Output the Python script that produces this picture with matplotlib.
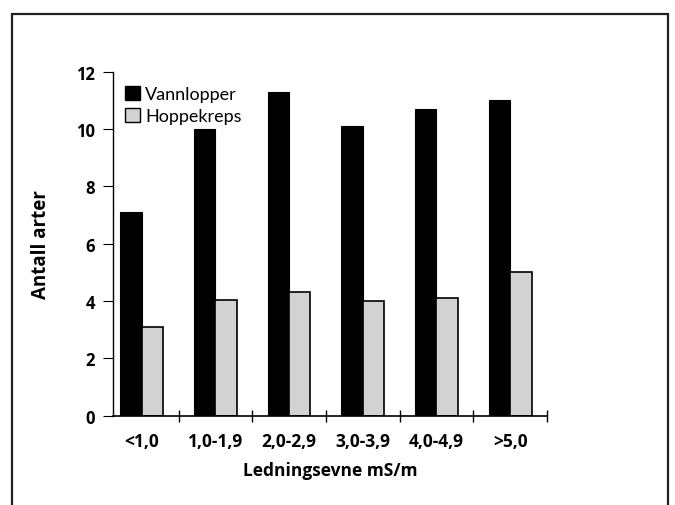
import matplotlib
matplotlib.use("Agg")
import matplotlib.pyplot as plt
from matplotlib.patches import Rectangle, Patch
import numpy as np

categories = ["<1,0", "1,0-1,9", "2,0-2,9", "3,0-3,9", "4,0-4,9", ">5,0"]
vannlopper = [7.1, 10.0, 11.3, 10.1, 10.7, 11.0]
hoppekreps = [3.1, 4.05, 4.3, 4.0, 4.1, 5.0]
yticks = [0, 2, 4, 6, 8, 10, 12]

plt.rcParams['font.family'] = ['Lato', 'DejaVu Sans']
bold_font = ['Open Sans', 'DejaVu Sans']

fig = plt.figure(figsize=(6.75, 5.06), dpi=100)
ax = fig.add_axes([113/675, 1-416.7/506, (547-113)/675, (416.7-72.7)/506])

x = np.arange(len(categories))
w = 0.29
ax.bar(x - w/2, vannlopper, w, color='black', edgecolor='black', linewidth=0.8, label='Vannlopper')
ax.bar(x + w/2, hoppekreps, w, color='#d2d2d2', edgecolor='black', linewidth=1.2, label='Hoppekreps')

ax.set_xlim(-0.39, 5.5)
ax.set_ylim(0, 12)
for s in ['top', 'right']:
    ax.spines[s].set_visible(False)
ax.spines['left'].set_linewidth(1.0)
ax.spines['bottom'].set_linewidth(1.2)

ax.set_yticks(yticks)
ax.set_yticklabels([str(t) for t in yticks], fontsize=12, fontweight='bold', family=bold_font)
ax.tick_params(axis='y', direction='out', length=7, width=0.8, pad=6)

ax.set_xticks(x)
ax.set_xticklabels(categories, fontsize=12.5, fontweight='bold', family=bold_font)
ax.tick_params(axis='x', which='major', length=0, pad=12)
ax.set_xticks(np.arange(0.5, 6, 1), minor=True)
ax.tick_params(axis='x', which='minor', direction='inout', length=9, width=1.0)

ax.set_xlabel("Ledningsevne mS/m", fontsize=12.5, fontweight='bold', family=bold_font)
ax.xaxis.set_label_coords(0.5, -0.132)
ax.set_ylabel("Antall arter", fontsize=13.5, fontweight='bold', family=bold_font)
ax.yaxis.set_label_coords(-0.143, 0.5)

handles = [Patch(facecolor='black', edgecolor='black'),
           Patch(facecolor='#d2d2d2', edgecolor='black', linewidth=1.0)]
leg = ax.legend(handles, ['Vannlopper', 'Hoppekreps'], loc='upper left',
                bbox_to_anchor=(0.01, 0.98), frameon=False, fontsize=13,
                handlelength=0.85, handleheight=0.85, handletextpad=0.3,
                labelspacing=0.3, borderaxespad=0)

fig.patches.append(Rectangle((12/675, -0.05), (668-12)/675, 1-15/506+0.05,
                             transform=fig.transFigure, fill=False,
                             edgecolor='#222222', linewidth=1.6))

fig.savefig("out.png", dpi=100)
